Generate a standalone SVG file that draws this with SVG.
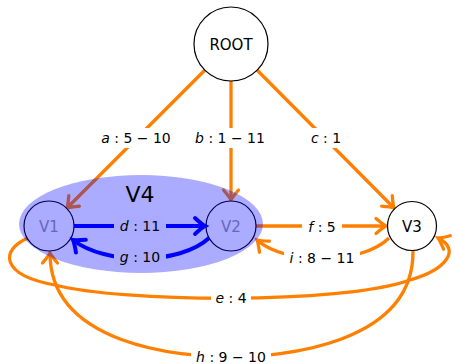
<svg xmlns="http://www.w3.org/2000/svg" width="455" height="364" viewBox="0 0 455 364">
<style>
.o{fill:none;stroke:#ff8000;stroke-width:3.3}
.b{fill:none;stroke:#0000ff;stroke-width:4}
.oa{marker-end:url(#ao)}
.ba{marker-end:url(#ab)}
.n circle{fill:#fff;stroke:#000;stroke-width:1.2}
.nt{font-family:"DejaVu Sans",sans-serif;font-size:15px;text-anchor:middle;fill:#000}
.lb{font-family:"DejaVu Sans",sans-serif;font-size:14px;text-anchor:middle;fill:#000}
.it{font-style:italic}
.bgw{fill:#fff}
.bgb{fill:#aaaaff}
</style>
<defs>
<marker id="ao" markerUnits="userSpaceOnUse" orient="auto" refX="0" refY="0" markerWidth="20" markerHeight="20" viewBox="-14 -10 20 20" overflow="visible">
<path d="M-10,-7.5 Q-3,-1.5 0,0 Q-3,1.5 -10,7.5" fill="none" stroke="#ff8000" stroke-width="3.3" stroke-linecap="round"/>
</marker>
<marker id="ab" markerUnits="userSpaceOnUse" orient="auto" refX="0" refY="0" markerWidth="20" markerHeight="20" viewBox="-14 -10 20 20" overflow="visible">
<path d="M-10,-8 Q-3,-1.5 0,0 Q-3,1.5 -10,8" fill="none" stroke="#0000ff" stroke-width="4" stroke-linecap="round"/>
</marker>
</defs>
<g id="connectors">
<path class="o oa" d="M205,70 L67,208"/>
<path class="o oa" d="M231,81 L231,200"/>
<path class="o oa" d="M257,70 L394,208"/>
<path class="o oa" d="M256,226 L386,226"/>
<path class="o oa" d="M389,238 C362,265 285,265 257,240"/>
<path class="o oa" d="M28,238 C0,250 0,275 55,285 C120,302 340,305 410,280 C445,270 462,250 438,238"/>
<path class="o oa" d="M413,251 C414,345 280,357 231,357 C180,357 50,345 50,253"/>
<rect class="bgw" x="97" y="128" width="78" height="20"/>
<text class="lb" x="136" y="143"><tspan class="it">a</tspan> : 5 − 10</text>
<rect class="bgw" x="191" y="128" width="78" height="20"/>
<text class="lb" x="230" y="143"><tspan class="it">b</tspan> : 1 − 11</text>
<rect class="bgw" x="306" y="128" width="40" height="20"/>
<text class="lb" x="326" y="143"><tspan class="it">c</tspan> : 1</text>
<rect class="bgw" x="302" y="217" width="40" height="20"/>
<text class="lb" x="322" y="232"><tspan class="it">f</tspan> : 5</text>
<rect class="bgw" x="284" y="248" width="76" height="20"/>
<text class="lb" x="322" y="263"><tspan class="it">i</tspan> : 8 − 11</text>
<rect class="bgw" x="211" y="288" width="40" height="20"/>
<text class="lb" x="231" y="303"><tspan class="it">e</tspan> : 4</text>
<rect class="bgw" x="191" y="347" width="80" height="17"/>
<text class="lb" x="231" y="362"><tspan class="it">h</tspan> : 9 − 10</text>
</g>
<g id="ROOT" class="n"><circle cx="231" cy="44" r="37"/><text class="nt" x="231" y="49.5">ROOT</text></g>
<g id="V3" class="n"><circle cx="412" cy="226" r="24.5"/><text class="nt" x="412" y="231.5">V3</text></g>
<g id="V1" class="n"><circle cx="49" cy="226" r="25"/><text class="nt" x="49" y="231.5" style="fill:#999">V1</text></g>
<g id="V2" class="n"><circle cx="231" cy="226" r="25"/><text class="nt" x="231" y="231.5" style="fill:#999">V2</text></g>
<g id="V4">
<ellipse cx="141" cy="224" rx="122" ry="49" fill="#0000ff" fill-opacity="0.33"/>
<text x="140" y="202" font-family="DejaVu Sans, sans-serif" font-size="22" text-anchor="middle" fill="#000">V4</text>
</g>
<g id="connectors-inner">
<path class="b ba" d="M74,226 L205,226"/>
<path class="b ba" d="M209,238 C180,265 105,265 73,240"/>
<rect class="bgb" x="114" y="217" width="52" height="19"/>
<text class="lb" x="140" y="231"><tspan class="it">d</tspan> : 11</text>
<rect class="bgb" x="114" y="248" width="52" height="19"/>
<text class="lb" x="140" y="262"><tspan class="it">g</tspan> : 10</text>
</g>
</svg>
